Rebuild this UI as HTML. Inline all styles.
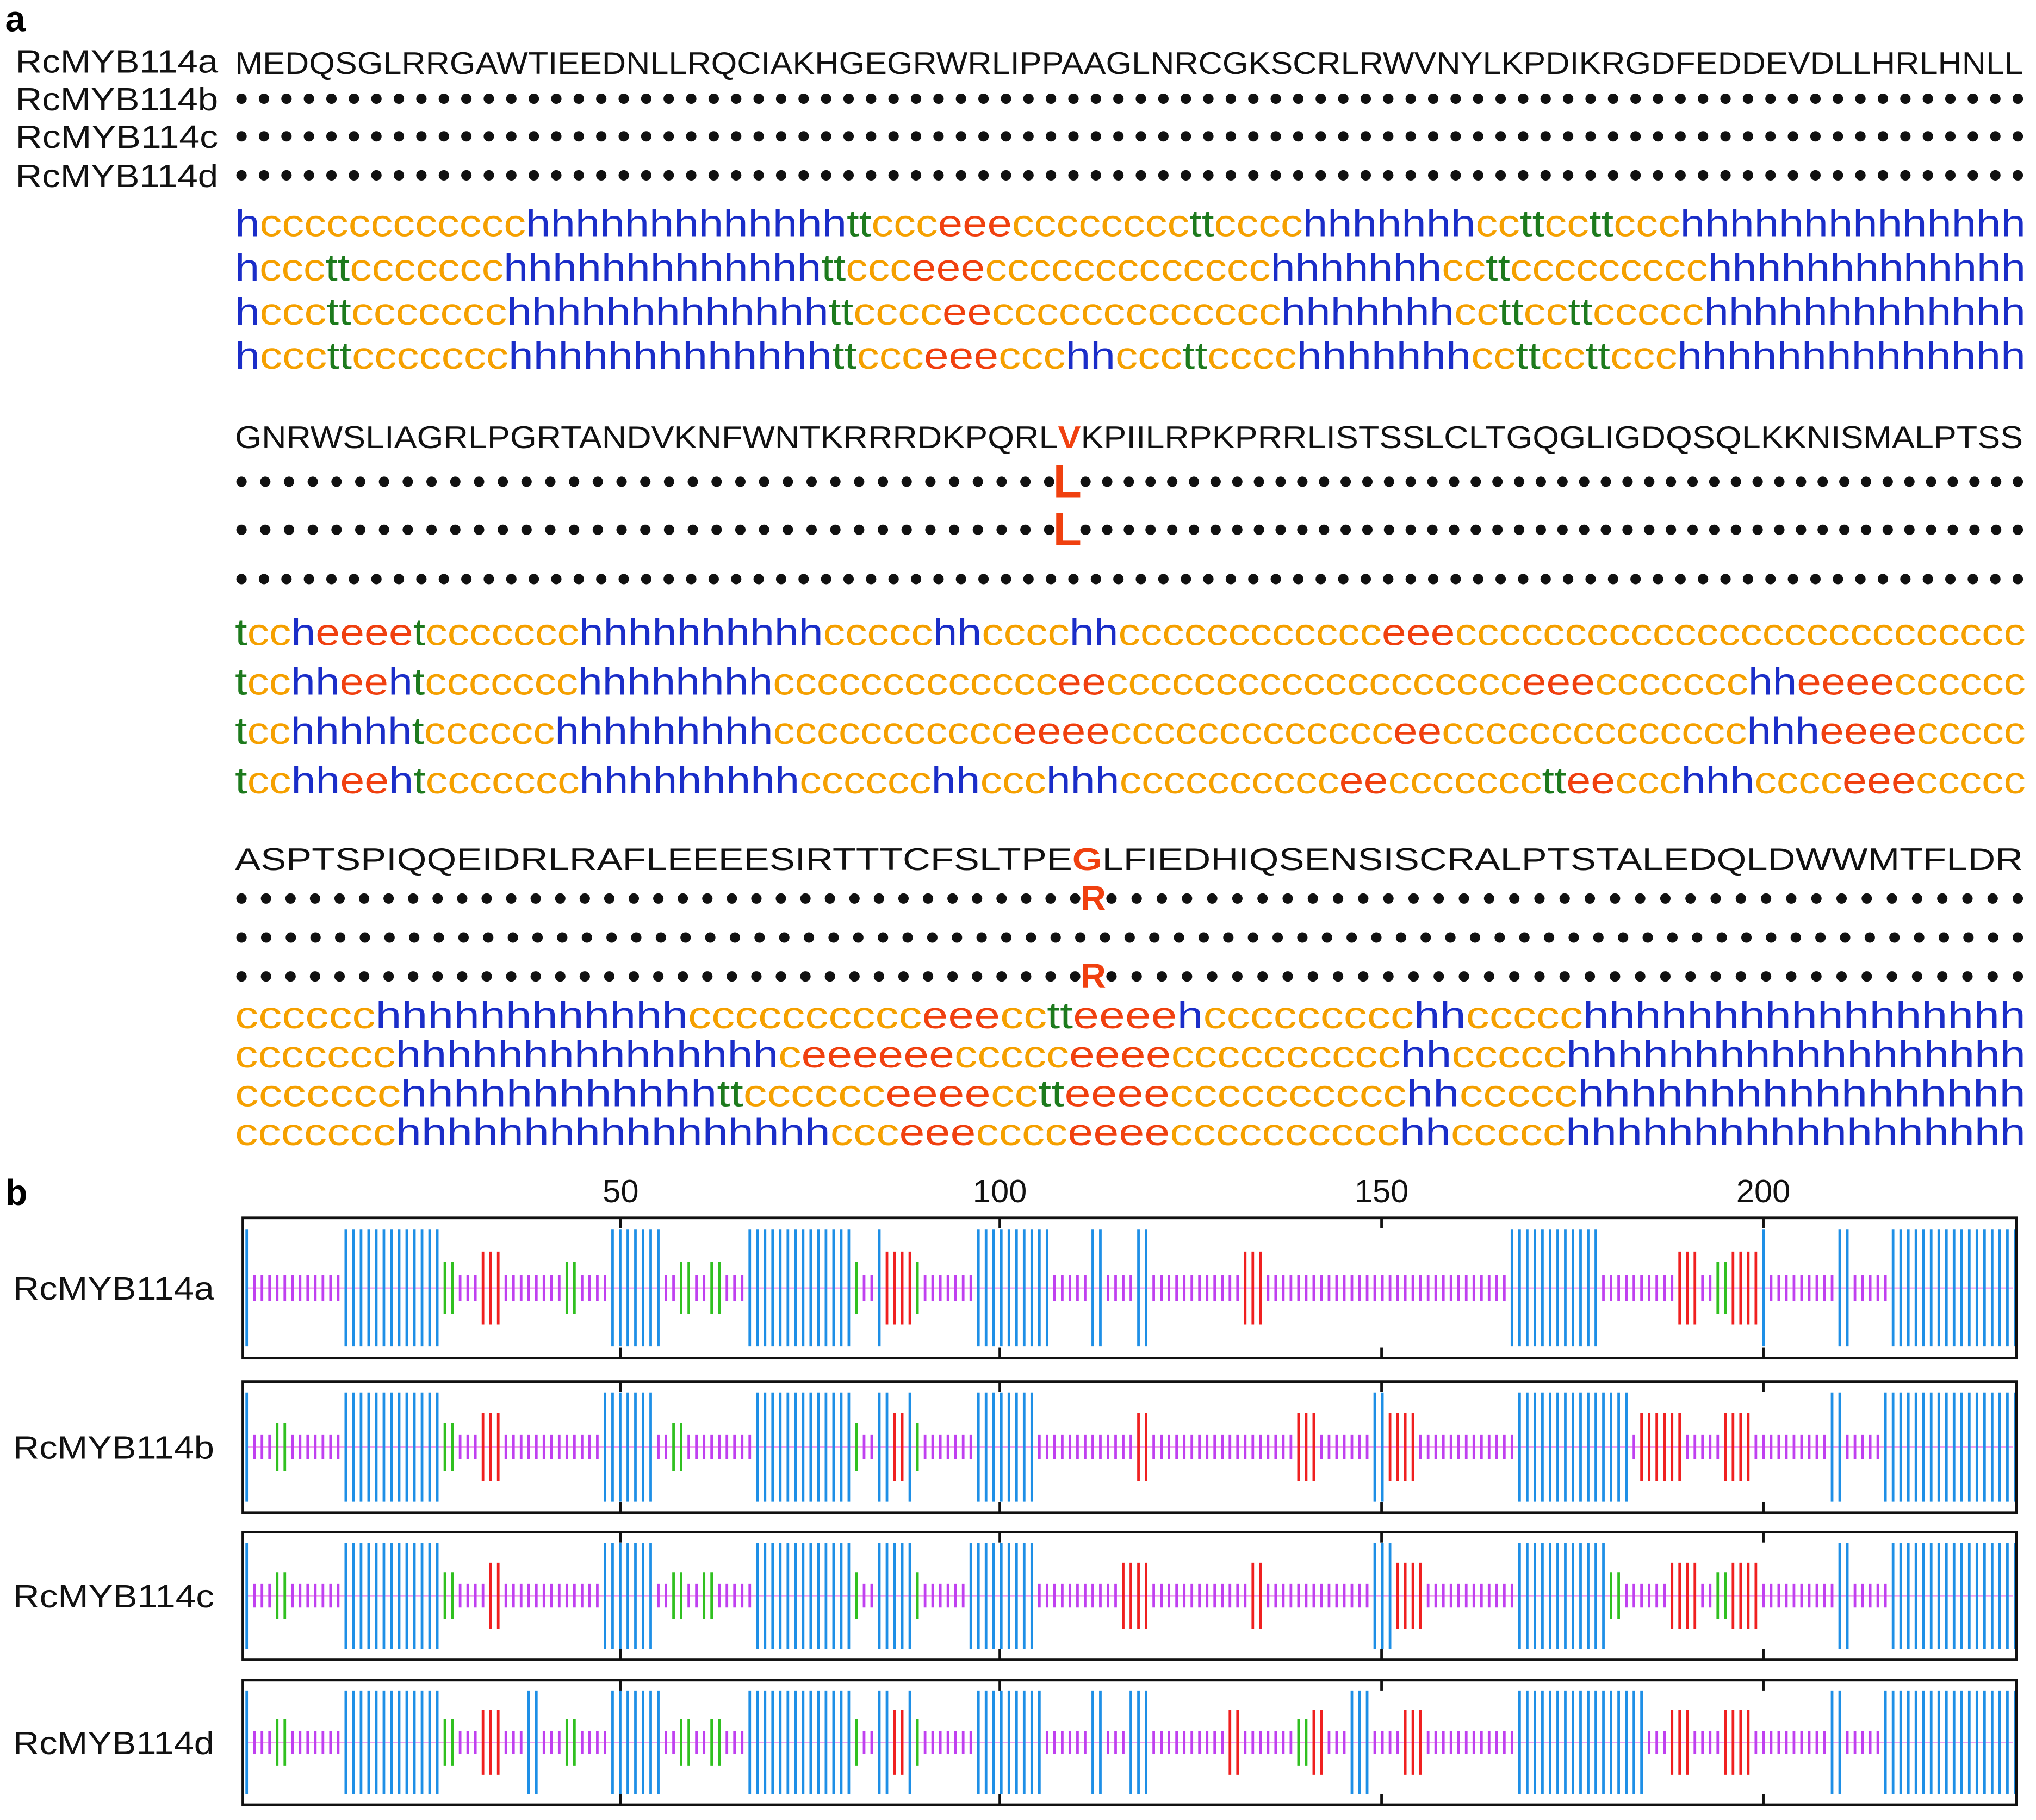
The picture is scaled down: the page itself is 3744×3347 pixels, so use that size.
<!DOCTYPE html>
<html><head><meta charset="utf-8">
<style>
html,body{margin:0;padding:0;background:#fff;width:3744px;height:3347px;overflow:hidden}
svg{display:block}
text{font-family:"Liberation Sans",Arial,sans-serif}
</style></head>
<body>
<svg id="s" width="3744" height="3347" viewBox="0 0 1568 1401.7" xmlns="http://www.w3.org/2000/svg">
<text x="4" y="24" font-size="28" font-weight="bold">a</text>
<text x="4" y="928" font-size="28" font-weight="bold">b</text>
<g font-size="25" fill="#111">
<text x="12" y="56" textLength="156" lengthAdjust="spacingAndGlyphs">RcMYB114a</text>
<text x="12" y="85" textLength="156" lengthAdjust="spacingAndGlyphs">RcMYB114b</text>
<text x="12" y="114" textLength="156" lengthAdjust="spacingAndGlyphs">RcMYB114c</text>
<text x="12" y="144" textLength="156" lengthAdjust="spacingAndGlyphs">RcMYB114d</text>
</g>
<g id="g"></g>
</svg>
<script>
var NS="http://www.w3.org/2000/svg",G=document.getElementById('g');
function el(t,a,txt){var e=document.createElementNS(NS,t);for(var k in a)e.setAttribute(k,a[k]);if(txt!=null)e.textContent=txt;G.appendChild(e);return e;}
function r(c,n){return c.repeat(n);}
var COL={h:'#1a2dc8',c:'#f5a000',e:'#f0400f',t:'#1d7a1d'};
var seq=["MEDQSGLRRGAWTIEEDNLLRQCIAKHGEGRWRLIPPAAGLNRCGKSCRLRWVNYLKPDIKRGDFEDDEVDLLHRLHNLL",
"GNRWSLIAGRLPGRTANDVKNFWNTKRRRDKPQRLVKPIILRPKPRRLISTSSLCLTGQGLIGDQSQLKKNISMALPTSS",
"ASPTSPIQQEIDRLRAFLEEEESIRTTTCFSLTPEGLFIEDHIQSENSISCRALPTSTALEDQLDWWMTFLDR"];
var ss=[
[ "h"+r("c",12)+r("h",13)+"tt"+"ccc"+"eee"+r("c",8)+"tt"+"cccc"+r("h",7)+"cctt"+"cctt"+"ccc"+r("h",14),
  "hccc"+"tt"+r("c",7)+r("h",13)+"tt"+"ccc"+"eee"+r("c",13)+r("h",7)+"cc"+"tt"+r("c",9)+r("h",13),
  "hccc"+"tt"+r("c",7)+r("h",13)+"tt"+"cccc"+"ee"+r("c",13)+r("h",7)+"cctt"+"cctt"+"ccccc"+r("h",13),
  "hccc"+"tt"+r("c",7)+r("h",13)+"tt"+"ccc"+"eee"+"ccc"+"hh"+"ccc"+"tt"+"cccc"+r("h",7)+"cctt"+"cctt"+"ccc"+r("h",14)],
[ "tcc"+"h"+"eeee"+"t"+r("c",7)+r("h",10)+"ccccc"+"hh"+"cccc"+"hh"+r("c",12)+"eee"+r("c",26),
  "tcc"+"hh"+"ee"+"h"+"t"+r("c",7)+r("h",8)+r("c",13)+"ee"+r("c",19)+"eee"+r("c",7)+"hh"+"eeee"+r("c",6),
  "tcc"+"hhhhh"+"t"+r("c",6)+r("h",9)+r("c",11)+"eeee"+r("c",13)+"ee"+r("c",14)+"hhh"+"eeee"+"ccccc",
  "tcc"+"hh"+"ee"+"h"+"t"+r("c",7)+r("h",9)+r("c",6)+"hh"+"ccc"+"hhh"+r("c",10)+"ee"+r("c",7)+"tt"+"ee"+"ccc"+"hhh"+"cccc"+"eee"+"ccccc"],
[ r("c",6)+r("h",12)+r("c",10)+"eee"+"cc"+"tt"+"eeee"+"h"+r("c",9)+"hh"+"ccccc"+r("h",17),
  r("c",7)+r("h",15)+"c"+"eeeeee"+"ccccc"+"eeee"+r("c",10)+"hh"+"ccccc"+r("h",18),
  r("c",7)+r("h",12)+"tt"+r("c",6)+"eeee"+"cc"+"tt"+"eeee"+r("c",10)+"hh"+"ccccc"+r("h",17),
  r("c",7)+r("h",17)+"ccc"+"eee"+"cccc"+"eeee"+r("c",10)+"hh"+"ccccc"+r("h",18)]
];
var X0=181,X1=1560;
var seqY=[57,345,670], dotY=[[76,105,135],[371,408,446],[692,722,752]];
var ssY=[[182,216,250,284],[497,535,573,611],[792,822,852,882]];
var muts=[{},{0:'L',1:'L'},{0:'R',2:'R'}];
var mutX=[0,822,842];
function dotsRow(y,n,mx,ch,fs,dy){
  // dots from 186 to 1554
  if(!ch){for(var i=0;i<n;i++){el('circle',{cx:186+i*(1554-186)/(n-1),cy:y,r:4,fill:'#111'});}return;}
  var nl=35,nr=n-36;
  for(var i=0;i<nl;i++)el('circle',{cx:186+i*((mx-14)-186)/(nl-1),cy:y,r:4,fill:'#111'});
  for(var i=0;i<nr;i++)el('circle',{cx:(mx+14)+i*(1554-(mx+14))/(nr-1),cy:y,r:4,fill:'#111'});
  el('text',{x:mx,y:y+dy,'font-size':fs,'font-weight':'bold',fill:'#f0400f','text-anchor':'middle'},ch);
}
for(var b=0;b<3;b++){
  var n=seq[b].length;
  var t=el('text',{x:X0,y:seqY[b],'font-size':24,fill:'#111',textLength:(X1-X0-2),lengthAdjust:'spacingAndGlyphs'});
  for(var i=0;i<n;i++){
    var ch=seq[b][i];
    if(b>0&&i==35){var sp=document.createElementNS(NS,'tspan');sp.setAttribute('fill','#f0400f');sp.setAttribute('font-weight','bold');sp.textContent=ch;t.appendChild(sp);}
    else t.appendChild(document.createTextNode(ch));
  }
  for(var rr=0;rr<3;rr++){
    var m=muts[b][rr];
    dotsRow(dotY[b][rr],n,mutX[b],m,b==1?36:27,b==1?12:9);
  }
  for(var rr=0;rr<4;rr++){
    var s=ss[b][rr];
    var tx=el('text',{x:X0,y:ssY[b][rr],'font-size':29,textLength:(X1-X0),lengthAdjust:'spacingAndGlyphs'});
    for(var i=0;i<s.length;i++){var sp=document.createElementNS(NS,'tspan');sp.setAttribute('fill',COL[s[i]]);sp.textContent=s[i];tx.appendChild(sp);}
  }
}
// part b
var ticks=[[50,478],[100,770],[150,1064],[200,1358]];
ticks.forEach(function(t){el('text',{x:t[1],y:926,'font-size':25,fill:'#111','text-anchor':'middle'},String(t[0]));});
var boxes=[[938,1046],[1064,1165],[1180,1278],[1294,1390]];
var names=["RcMYB114a","RcMYB114b","RcMYB114c","RcMYB114d"];
var BC={h:'#1e8fe6',c:'#c040f0',e:'#f02020',t:'#30c020'};
var HH={h:45,e:28,t:20,c:10};
for(var k=0;k<4;k++){
  var y0=boxes[k][0],y1=boxes[k][1],cy=(y0+y1)/2;
  el('text',{x:10,y:cy+9,'font-size':25,fill:'#111',textLength:155,lengthAdjust:'spacingAndGlyphs'},names[k]);
  var s=ss[0][k]+ss[1][k]+ss[2][k];
  el('line',{x1:190,x2:1550,y1:cy,y2:cy,stroke:'#f0a0f0','stroke-width':1});
  for(var i=0;i<s.length;i++){
    var x=190+i*5.87, c=s[i], hh=HH[c]*(y1-y0)/108;
    el('line',{x1:x,x2:x,y1:cy-hh,y2:cy+hh,stroke:BC[c],'stroke-width':2});
  }
  el('rect',{x:187,y:y0,width:1366,height:y1-y0,fill:'none',stroke:'#111','stroke-width':2});
  ticks.forEach(function(t){el('line',{x1:t[1],x2:t[1],y1:y0,y2:y0+8,stroke:'#111','stroke-width':2});el('line',{x1:t[1],x2:t[1],y1:y1-8,y2:y1,stroke:'#111','stroke-width':2});});
}
</script>
</body></html>
